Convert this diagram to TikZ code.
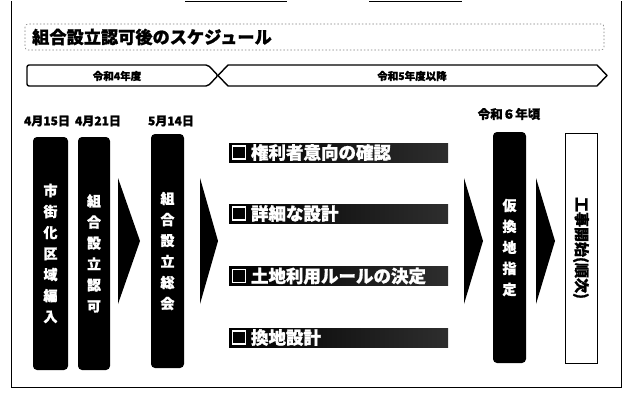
\documentclass[tikz,border=0pt]{standalone}
\usepackage{fontspec}
\setmainfont{Noto Sans CJK JP}[BoldFeatures={FakeBold=1.2}]
\begin{document}
\begin{tikzpicture}[x=1pt,y=-1pt,
  jpb/.style={font=\bfseries\fontsize{#1}{#1}\selectfont},
  blackbox/.style={fill=black,rounded corners=4pt,text=white,inner sep=0pt,align=center,
     font=\bfseries\fontsize{14}{21}\selectfont},
  taskbar/.style={left color=black,right color=black!82,minimum width=219pt,minimum height=19pt,inner sep=0pt},
  tasktext/.style={text=white,anchor=west,inner sep=0pt,font=\bfseries\fontsize{17.5}{17.5}\selectfont},
  chev/.style={fill=black},
  yearbar/.style={draw=black,line width=1.4pt,line join=round},
  datetext/.style={inner sep=0pt,font=\bfseries\fontsize{12}{12}\selectfont}]
\useasboundingbox (0,0) rectangle (629,396);
% frame
\draw[line width=0.9pt] (11,1) -- (11,387) -- (621,387) -- (621,1);
\draw[line width=0.9pt] (185,1) -- (287,1) (369,1) -- (462,1);
% title box
\draw[gray,line width=0.6pt,dash pattern=on 1.5pt off 2pt,rounded corners=3pt] (25,24) rectangle (604,50);
\node[anchor=west,inner sep=0pt,jpb=17.2] (title) at (32,37) {組合設立認可後のスケジュール};
% year bars
\draw[yearbar,rounded corners=2pt] (27,65) -- (208,65) -- (218,75.5) -- (208,86) -- (27,86) -- cycle;
\draw[yearbar] (228,65) -- (597,65) -- (607,75.5) -- (597,86) -- (228,86) -- (218,75.5) -- cycle;
\node[inner sep=0pt,jpb=10.5] (y4) at (117,76) {令和4年度};
\node[inner sep=0pt,jpb=10.5] (y5) at (412,76) {令和5年度以降};
% dates
\node[datetext] (d1) at (47,121) {4月15日};
\node[datetext] (d2) at (98,121) {4月21日};
\node[datetext] (d3) at (171,121) {5月14日};
\node[datetext,font=\bfseries\fontsize{12.5}{12.5}\selectfont] (d4) at (509,114) {令和６年頃};
% black boxes
\node[blackbox,minimum width=35pt,minimum height=233pt] (b1) at (50.5,253.5) {市\\街\\化\\区\\域\\編\\入};
\node[blackbox,minimum width=32pt,minimum height=233pt] (b2) at (94,253.5) {組\\合\\設\\立\\認\\可};
\node[blackbox,minimum width=33pt,minimum height=234pt] (b3) at (167.5,251) {組\\合\\設\\立\\総\\会};
\node[blackbox,minimum width=33pt,minimum height=231pt] (b4) at (509.5,247.5) {仮\\換\\地\\指\\定};
\node[draw=black,line width=1pt,minimum width=32pt,minimum height=230pt,inner sep=0pt] (b5) at (581,248) {};
\node[rotate=-90,inner sep=0pt,jpb=15] (b5t) at (b5.center) {工事開始(順次)};
% chevrons
\fill[chev] (118,178) -- (140,241) -- (118,304) -- cycle;
\fill[chev] (200,178) -- (218,241) -- (200,304) -- cycle;
\fill[chev] (464,178) -- (483,241) -- (464,304) -- cycle;
\fill[chev] (536,178) -- (555,241) -- (536,304) -- cycle;
% task bars
\foreach \n/\yy/\t in {1/152.5/権利者意向の確認, 2/213.5/詳細な設計, 3/276/土地利用ルールの決定, 4/337.5/換地設計}{
  \node[taskbar] (t\n) at (338.5,\yy) {};
  \draw[white,line width=1.3pt] ([xshift=4pt,yshift=-6.5pt]t\n.west) rectangle ([xshift=17pt,yshift=6.5pt]t\n.west);
  \node[tasktext] (tt\n) at ([xshift=22pt]t\n.west) {\t};
}
\end{tikzpicture}
\end{document}
